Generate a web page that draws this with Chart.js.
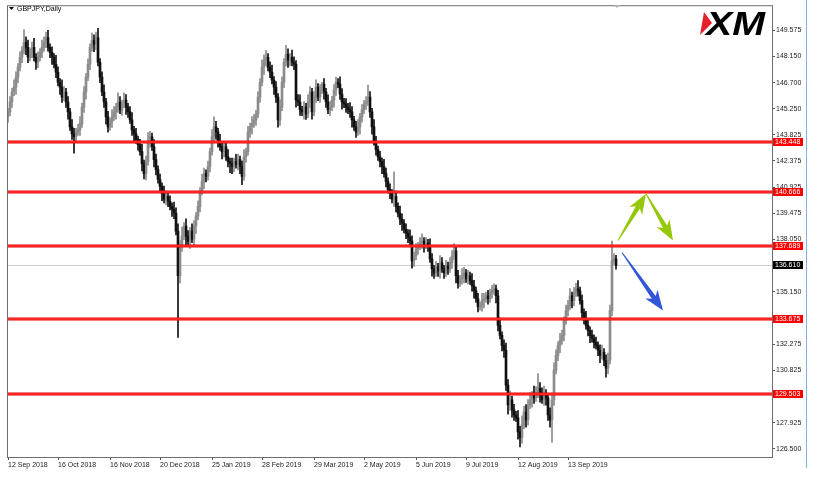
<!DOCTYPE html>
<html>
<head>
<meta charset="utf-8">
<script src="https://cdn.jsdelivr.net/npm/chart.js@4.4.1/dist/chart.umd.min.js"></script>
<style>
  html, body { margin: 0; padding: 0; background: #fff; }
  #wrap { width: 821px; height: 477px; position: relative; }
</style>
</head>
<body>
<div id="wrap"><canvas id="c" width="821" height="477"></canvas></div>
<script>
// GBPJPY daily closes, one per bar
const closes = [
  145.08,145.63,146.18,146.45,147.00,147.55,148.10,148.48,148.92,148.64,148.10,148.37,148.64,148.10,147.82,148.10,148.37,148.64,148.92,149.19,
  148.64,148.37,148.10,147.71,147.27,146.72,146.45,145.90,146.18,145.63,145.08,144.26,143.87,143.71,143.98,144.09,144.42,145.35,146.18,147.00,
  147.71,148.64,149.03,148.81,149.19,147.82,147.00,146.18,145.63,144.81,144.26,144.53,144.81,145.08,145.35,145.63,145.19,145.52,145.74,145.35,
  145.08,144.64,144.09,143.87,143.55,143.27,142.89,142.23,141.68,142.34,143.44,143.71,143.16,142.45,141.90,141.35,140.97,140.59,140.26,140.42,
  140.15,139.87,139.71,139.49,138.50,136.04,137.68,138.23,138.78,138.23,137.95,138.50,138.06,138.78,139.33,139.87,140.70,141.24,141.68,141.52,
  142.07,142.89,143.71,144.26,143.98,143.44,143.16,142.89,143.16,142.61,142.34,142.23,142.07,142.34,142.18,142.45,142.07,141.52,142.61,142.89,
  143.98,144.26,144.42,144.64,144.97,145.90,146.72,147.55,147.93,148.10,147.55,147.27,146.83,146.45,145.90,144.64,145.35,146.72,147.82,148.26,
  147.93,148.10,147.82,147.71,145.74,145.63,145.19,145.08,145.35,144.97,145.63,146.18,145.08,145.90,146.45,145.90,146.29,146.62,146.18,145.63,
  145.19,145.35,145.74,146.29,146.72,146.62,146.07,145.63,145.52,145.35,145.19,145.08,144.64,144.26,143.98,144.26,144.81,145.19,145.52,145.63,
  145.90,145.08,144.26,143.44,143.00,142.61,142.34,142.07,141.68,141.24,140.81,140.59,140.26,140.42,139.87,139.49,139.16,138.94,138.61,138.39,
  138.17,137.95,136.86,137.13,137.52,137.68,137.85,137.95,137.74,137.85,137.68,136.97,136.42,136.20,136.53,136.31,136.75,136.42,136.20,136.59,
  136.42,136.75,137.13,137.41,136.04,135.65,135.87,136.04,136.20,135.87,136.04,135.76,135.49,135.21,134.77,134.34,134.39,134.67,134.77,134.94,
  134.77,135.10,135.21,135.32,134.94,133.30,132.75,132.20,131.93,130.01,128.91,129.19,128.64,128.36,128.20,127.43,127.10,127.81,128.53,128.09,
  128.91,129.19,129.46,129.30,129.62,129.84,129.46,129.19,129.46,129.30,128.36,128.09,129.19,130.83,131.65,132.20,132.47,132.75,133.57,134.12,
  134.39,134.94,134.67,135.10,135.32,135.21,134.67,134.01,133.68,133.30,133.02,132.75,132.58,132.36,132.20,131.93,131.65,131.82,131.38,130.94,
  131.38,134.12,136.86,136.97,136.61
];
const firstOpen = 144.80;

// upper / lower shadow lengths beyond the body
const wickUp = [
  0.2,0.3,0.2,0.4,0.3,0.2,0.3,0.2,0.7,0.3,0.4,0.2,0.3,0.5,0.2,0.3,0.2,0.4,0.3,0.3,
  0.4,0.2,0.3,0.2,0.5,0.3,0.2,0.4,0.3,0.2,0.3,0.2,0.4,0.3,0.2,0.3,0.4,0.2,0.3,0.2,
  0.3,0.2,0.4,0.3,0.3,0.5,0.2,0.3,0.4,0.2,0.3,0.2,0.4,0.3,0.2,0.5,0.3,0.2,0.4,0.3,
  0.2,0.3,0.4,0.2,0.3,0.2,0.3,0.4,0.2,0.3,0.5,0.3,0.2,0.4,0.3,0.2,0.3,0.2,0.4,0.3,
  0.2,0.3,0.2,0.4,0.3,0.4,0.3,0.5,0.2,0.4,0.3,0.2,0.4,0.3,0.2,0.3,0.2,0.4,0.3,0.2,
  0.3,0.2,0.4,0.55,0.3,0.2,0.4,0.3,0.2,0.3,0.4,0.2,0.3,0.2,0.4,0.3,0.2,0.3,0.4,0.2,
  0.3,0.2,0.4,0.3,0.2,0.3,0.2,0.4,0.3,0.38,0.2,0.3,0.4,0.2,0.3,0.2,0.4,0.3,0.2,0.5,
  0.3,0.2,0.4,0.3,0.2,0.3,0.4,0.2,0.3,0.2,0.4,0.3,0.2,0.3,0.4,0.2,0.3,0.1,0.3,0.2,
  0.4,0.3,0.2,0.3,0.28,0.2,0.4,0.3,0.2,0.3,0.2,0.4,0.3,0.2,0.3,0.4,0.2,0.3,0.2,0.3,
  0.66,0.3,0.2,0.4,0.3,0.2,0.3,0.2,0.4,0.3,0.2,0.3,0.2,1.35,0.3,0.2,0.4,0.3,0.2,0.3,
  0.2,0.4,0.3,0.2,0.3,0.2,0.3,0.4,0.2,0.3,0.2,0.4,0.3,0.2,0.3,0.2,0.4,0.3,0.2,0.3,
  0.2,0.3,0.3,0.4,0.2,0.3,0.2,0.4,0.3,0.2,0.3,0.2,0.4,0.3,0.2,0.3,0.2,0.4,0.3,0.2,
  0.3,0.2,0.3,0.28,0.2,0.3,0.4,0.2,0.3,0.4,0.3,0.5,0.2,0.3,0.2,0.4,0.3,0.5,0.3,0.4,
  0.3,0.4,0.2,0.5,0.3,0.8,0.3,0.4,0.5,0.3,0.2,0.4,0.3,0.4,0.3,0.2,0.4,0.3,0.2,0.3,
  0.3,0.4,0.2,0.3,0.3,0.45,0.2,0.3,0.2,0.4,0.3,0.2,0.3,0.2,0.3,0.2,0.3,0.4,0.2,0.3,
  0.4,0.3,1.1,0.3,0.2
];
const wickDown = [
  0.3,0.2,0.3,0.2,0.4,0.3,0.2,0.3,0.2,0.4,0.3,0.2,0.3,0.2,0.4,0.3,0.2,0.3,0.2,0.3,
  0.2,0.3,0.4,0.2,0.3,0.2,0.4,0.3,0.2,0.3,0.4,0.2,0.3,0.9,0.3,0.2,0.3,0.2,0.3,0.4,
  0.2,0.3,0.2,0.4,0.3,0.2,0.3,0.2,0.3,0.4,0.3,0.2,0.3,0.2,0.4,0.3,0.2,0.3,0.2,0.4,
  0.3,0.2,0.3,0.4,0.2,0.3,0.2,0.4,0.3,0.35,0.2,0.3,0.2,0.4,0.3,0.2,0.3,0.4,0.2,0.3,
  0.3,0.2,0.4,0.3,0.2,3.4,0.4,0.3,0.2,0.5,0.3,0.4,0.2,0.3,0.4,0.2,0.3,0.2,0.4,0.3,
  0.2,0.3,0.2,0.3,0.4,0.3,0.2,0.4,0.3,0.2,0.3,0.5,0.4,0.3,0.2,0.3,0.4,0.45,0.2,0.3,
  0.2,0.3,0.4,0.2,0.3,0.2,0.3,0.2,0.4,0.3,0.2,0.3,0.2,0.4,0.3,0.4,0.3,0.2,0.3,0.2,
  0.4,0.3,0.2,0.3,0.4,0.2,0.3,0.2,0.4,0.3,0.2,0.3,0.4,0.2,0.3,0.2,0.3,0.2,0.4,0.3,
  0.2,0.3,0.2,0.4,0.3,0.2,0.3,0.4,0.2,0.3,0.2,0.3,0.4,0.2,0.3,0.2,0.4,0.3,0.2,0.3,
  0.2,0.3,0.4,0.2,0.3,0.2,0.3,0.4,0.2,0.3,0.2,0.3,0.2,0.4,0.3,0.2,0.3,0.4,0.2,0.3,
  0.3,0.2,0.4,0.3,0.2,0.3,0.2,0.3,0.4,0.2,0.3,0.2,0.4,0.3,0.2,0.3,0.4,0.2,0.3,0.2,
  0.3,0.2,0.3,0.2,0.4,0.3,0.2,0.3,0.4,0.2,0.3,0.2,0.3,0.4,0.2,0.3,0.2,0.3,0.4,0.2,
  0.3,0.2,0.3,0.2,0.4,0.3,0.2,0.3,0.4,0.3,0.5,0.3,0.4,0.3,0.2,0.4,0.5,0.3,0.2,0.4,
  0.3,0.2,0.4,0.3,0.2,0.3,0.4,0.2,0.3,0.4,0.3,0.4,1.25,0.3,0.2,0.3,0.4,0.2,0.3,0.2,
  0.3,0.2,0.4,0.3,0.2,0.3,0.2,0.4,0.3,0.2,0.3,0.4,0.2,0.3,0.2,0.3,0.4,0.2,0.3,0.5,
  0.3,0.2,0.3,0.2,0.2
];

// time axis: bar index of each date label
const tickIndex = [0, 25, 51, 76, 102, 127, 153, 178, 204, 229, 255, 280];
const tickLabels = ["12 Sep 2018", "16 Oct 2018", "16 Nov 2018", "20 Dec 2018", "25 Jan 2019", "28 Feb 2019",
                    "29 Mar 2019", "2 May 2019", "5 Jun 2019", "9 Jul 2019", "12 Aug 2019", "13 Sep 2019"];
const priceTicks = [149.575, 148.150, 146.700, 145.250, 143.825, 142.375, 140.925, 139.475, 138.050,
                    136.600, 135.150, 133.700, 132.275, 130.825, 129.375, 127.925, 126.500];

// horizontal levels and current bid
const levels = [143.448, 140.666, 137.689, 133.675, 129.503];
const bidPrice = 136.610;

// scenario arrows [fromIndex, fromPrice, toIndex, toPrice]
const greenArrows = [[305, 137.98, 319, 140.57], [319, 140.57, 332.5, 137.98]];
const blueArrows = [[307, 137.32, 327.5, 134.13]];

const opens = closes.map((c, i) => i === 0 ? firstOpen : closes[i - 1]);
const highs = closes.map((c, i) => Math.max(opens[i], c) + wickUp[i]);
const lows = closes.map((c, i) => Math.min(opens[i], c) - wickDown[i]);
const barColors = closes.map((c, i) => c >= opens[i] ? "#8c8c8c" : "#111111");

const FONT = '"Liberation Sans", Arial, sans-serif';

function drawArrow(ctx, x1, y1, x2, y2, color) {
  const dx = x2 - x1, dy = y2 - y1, len = Math.hypot(dx, dy);
  const ux = dx / len, uy = dy / len, nx = -uy, ny = ux;
  const head = 20, hw = 7.5, sw0 = 0.5, sw1 = 2.4;
  const bx = x2 - ux * head, by = y2 - uy * head;
  const nb = 4; // notch depth at the head base
  ctx.beginPath();
  ctx.moveTo(x1 + nx * sw0, y1 + ny * sw0);
  ctx.lineTo(bx + ux * nb + nx * sw1, by + uy * nb + ny * sw1);
  ctx.lineTo(bx + nx * hw, by + ny * hw);
  ctx.lineTo(x2, y2);
  ctx.lineTo(bx - nx * hw, by - ny * hw);
  ctx.lineTo(bx + ux * nb - nx * sw1, by + uy * nb - ny * sw1);
  ctx.lineTo(x1 - nx * sw0, y1 - ny * sw0);
  ctx.closePath();
  ctx.fillStyle = color;
  ctx.fill();
}

function priceTag(ctx, right, py, text, bg) {
  ctx.fillStyle = bg;
  ctx.fillRect(right + 1, Math.round(py) - 4, 30, 8);
  ctx.fillStyle = "#fff";
  ctx.font = "7px " + FONT;
  ctx.textAlign = "left";
  ctx.textBaseline = "middle";
  ctx.fillText(text, right + 3, Math.round(py) + 0.5);
}

const overlay = {
  id: "overlay",
  beforeDatasetsDraw(chart) {
    const { ctx, chartArea: a, scales: { y } } = chart;
    const py = Math.round(y.getPixelForValue(bidPrice)) + 0.5;
    ctx.save();
    ctx.strokeStyle = "#cfcfcf";
    ctx.lineWidth = 1;
    ctx.beginPath();
    ctx.moveTo(a.left, py);
    ctx.lineTo(a.right, py);
    ctx.stroke();
    ctx.restore();
  },
  afterDatasetsDraw(chart) {
    const { ctx, chartArea: a, scales: { x, y } } = chart;
    ctx.save();
    levels.forEach(v => {
      const py = Math.round(y.getPixelForValue(v));
      ctx.fillStyle = "#f00000";
      ctx.fillRect(a.left, py - 1.5, a.right - a.left, 3);
      ctx.fillStyle = "#ff4a4a";
      ctx.fillRect(a.left, py - 0.5, a.right - a.left, 1);
    });
    greenArrows.forEach(g => drawArrow(ctx, x.getPixelForValue(g[0]), y.getPixelForValue(g[1]),
      x.getPixelForValue(g[2]), y.getPixelForValue(g[3]), "#96c80a"));
    blueArrows.forEach(g => drawArrow(ctx, x.getPixelForValue(g[0]), y.getPixelForValue(g[1]),
      x.getPixelForValue(g[2]), y.getPixelForValue(g[3]), "#3356d6"));
    ctx.restore();
  },
  afterDraw(chart) {
    const { ctx, chartArea: a, scales: { y } } = chart;
    ctx.save();
    // chart frame
    ctx.strokeStyle = "#6e6e6e";
    ctx.lineWidth = 1;
    ctx.strokeRect(a.left + 0.5, a.top + 0.5, a.right - a.left, a.bottom - a.top);
    // price tags on the axis
    levels.forEach(v => priceTag(ctx, a.right, y.getPixelForValue(v), v.toFixed(3), "#ff0000"));
    priceTag(ctx, a.right, y.getPixelForValue(bidPrice), bidPrice.toFixed(3), "#000000");
    // title
    ctx.fillStyle = "#000";
    ctx.beginPath();
    ctx.moveTo(9, 7); ctx.lineTo(14, 7); ctx.lineTo(11.5, 10); ctx.closePath();
    ctx.fill();
    ctx.font = "7px " + FONT;
    ctx.textAlign = "left";
    ctx.textBaseline = "middle";
    ctx.fillText("GBPJPY,Daily", 17, 9);
    // shift marker
    ctx.fillStyle = "#b0b0b0";
    ctx.beginPath();
    ctx.moveTo(614, 5); ctx.lineTo(620, 5); ctx.lineTo(617, 8); ctx.closePath();
    ctx.fill();
    // XM logo
    ctx.fillStyle = "#e3202b";
    ctx.beginPath();
    ctx.moveTo(704, 12); ctx.lineTo(712, 23); ctx.lineTo(700, 35); ctx.closePath();
    ctx.fill();
    ctx.fillStyle = "#000";
    ctx.font = "italic bold 34px " + FONT;
    ctx.textBaseline = "alphabetic";
    const w = ctx.measureText("XM").width;
    ctx.translate(706, 35);
    ctx.scale(59 / w, 1);
    ctx.fillText("XM", 0, 0);
    ctx.setTransform(1, 0, 0, 1, 0, 0);
    // window edge
    ctx.fillStyle = "#7fb2e5";
    ctx.fillRect(806, 0, 1, 468);
    ctx.restore();
  }
};

new Chart(document.getElementById("c"), {
  type: "bar",
  data: {
    datasets: [
      {
        data: closes.map((c, i) => ({ x: i, y: [lows[i], highs[i]] })),
        backgroundColor: barColors,
        barThickness: 1,
        grouped: false,
        borderWidth: 0
      },
      {
        data: closes.map((c, i) => ({ x: i, y: [opens[i], c] })),
        backgroundColor: barColors,
        barThickness: 2,
        grouped: false,
        borderWidth: 0
      }
    ]
  },
  options: {
    responsive: false,
    animation: false,
    devicePixelRatio: 1,
    layout: { padding: { left: 7, top: 4, right: 0, bottom: 0 } },
    plugins: { legend: { display: false }, tooltip: { enabled: false } },
    scales: {
      x: {
        type: "linear",
        offset: false,
        min: -0.5,
        max: 382,
        afterBuildTicks: s => { s.ticks = tickIndex.map(v => ({ value: v })); },
        afterFit: s => { s.height = 20; },
        grid: { offset: false, drawOnChartArea: false, drawTicks: true, tickLength: 3, tickColor: "#555" },
        border: { display: false },
        ticks: {
          autoSkip: false,
          maxRotation: 0,
          align: "start",
          padding: 1,
          color: "#222",
          font: { family: FONT, size: 7 },
          callback: v => tickLabels[tickIndex.indexOf(v)]
        }
      },
      y: {
        position: "right",
        min: 126.04,
        max: 150.97,
        afterBuildTicks: s => { s.ticks = priceTicks.map(v => ({ value: v })); },
        afterFit: s => { s.width = 49; },
        grid: { drawOnChartArea: false, drawTicks: true, tickLength: 3, tickColor: "#555" },
        border: { display: false },
        ticks: {
          padding: 1,
          color: "#222",
          font: { family: FONT, size: 7 },
          callback: v => v.toFixed(3)
        }
      }
    }
  },
  plugins: [overlay]
});
</script>
</body>
</html>
